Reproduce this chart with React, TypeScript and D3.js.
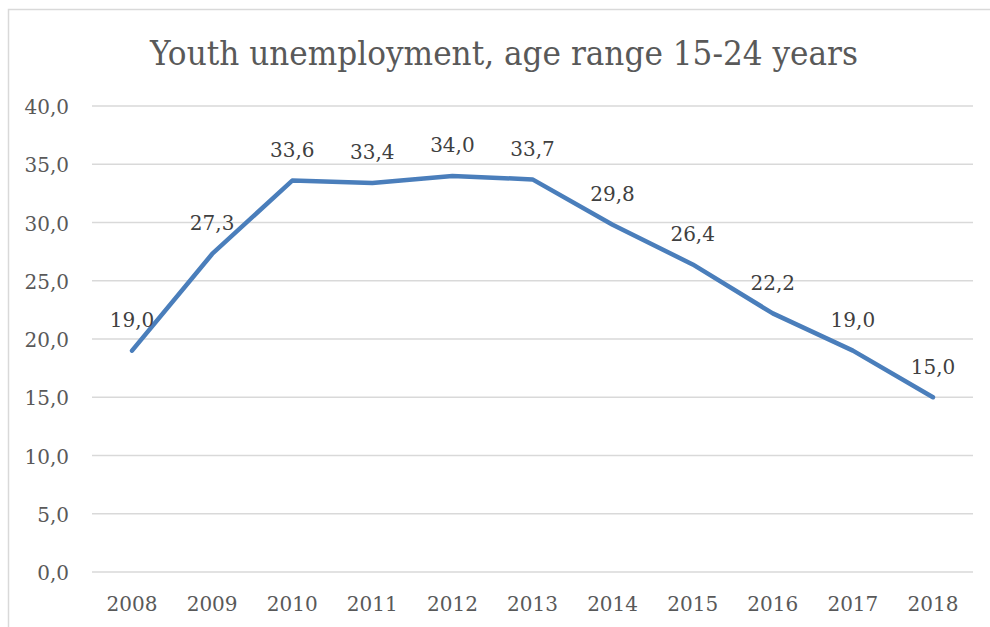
import React from "react";
import * as d3 from "d3";

const years = ["2008","2009","2010","2011","2012","2013","2014","2015","2016","2017","2018"];
const values = [19.0, 27.3, 33.6, 33.4, 34.0, 33.7, 29.8, 26.4, 22.2, 19.0, 15.0];
const yTicks = [0, 5, 10, 15, 20, 25, 30, 35, 40];
const title = "Youth unemployment, age range 15-24 years";

const W = 990, H = 627;
const FONT = "'DejaVu Serif', 'Liberation Serif', serif";

export default function App() {
  const x = d3.scaleBand<string>().domain(years).range([92, 973]);
  const y = d3.scaleLinear().domain([0, 40]).range([572, 106]);
  const fmt = (v: number) => v.toFixed(1).replace(".", ",");
  const line = d3.line<number>()
    .x((_, i) => (x(years[i]) as number) + x.bandwidth() / 2)
    .y((d) => y(d));
  return (
    <svg width={W} height={H} style={{ position: "absolute", left: 0, top: 0, background: "#fff" }}>
      <rect x={8.5} y={9.5} width={990} height={700} fill="#fff" stroke="#d9d9d9" strokeWidth={1.5} />
      <text x={504} y={65} textAnchor="middle" fontFamily={FONT} fontSize={33} fill="#595959" textLength={708} lengthAdjust="spacingAndGlyphs">{title}</text>
      {yTicks.map((t) => (
        <g key={t}>
          <line x1={92} x2={973} y1={y(t)} y2={y(t)} stroke="#d9d9d9" strokeWidth={1.5} />
          <text x={69} y={y(t) + 8} textAnchor="end" fontFamily={FONT} fontSize={20} fill="#595959">{fmt(t)}</text>
        </g>
      ))}
      {years.map((yr) => (
        <text key={yr} x={(x(yr) as number) + x.bandwidth() / 2} y={610.5} textAnchor="middle" fontFamily={FONT} fontSize={20} fill="#595959">{yr}</text>
      ))}
      <path d={line(values) || ""} fill="none" stroke="#4a7ebb" strokeWidth={4.5} strokeLinejoin="round" strokeLinecap="round" />
      {values.map((v, i) => (
        <text key={i} x={(x(years[i]) as number) + x.bandwidth() / 2} y={y(v) - 23.5} textAnchor="middle" fontFamily={FONT} fontSize={20} fill="#404040">{fmt(v)}</text>
      ))}
    </svg>
  );
}
